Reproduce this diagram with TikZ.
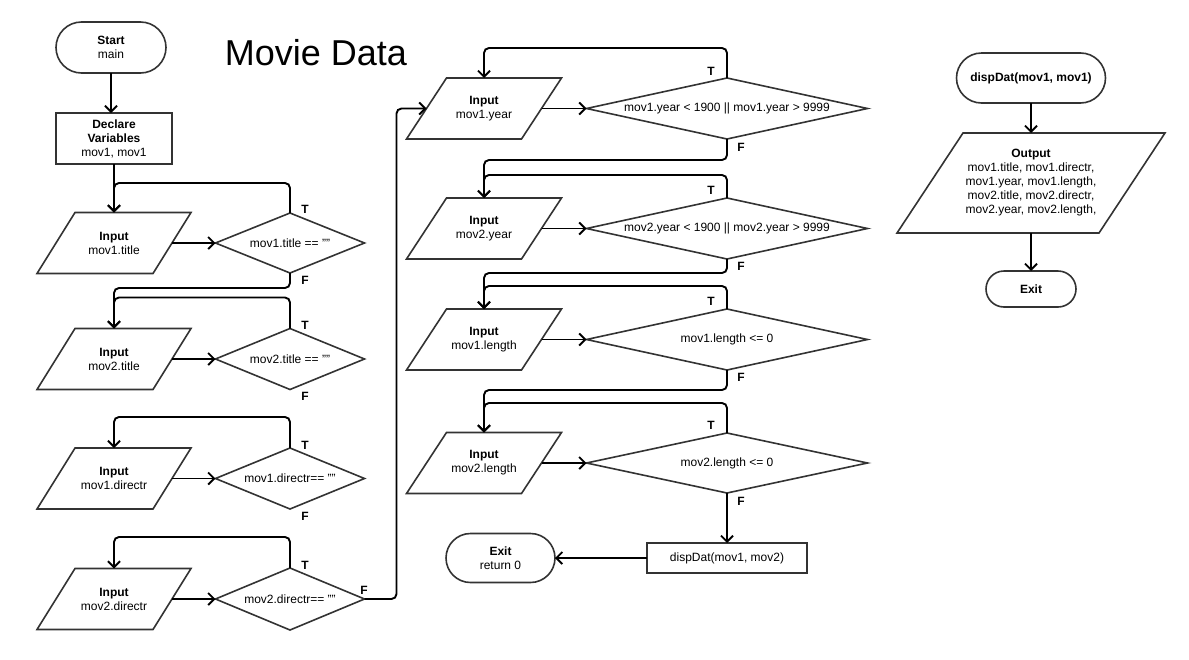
\documentclass[tikz,border=0pt]{standalone}
\usepackage{fontspec}
\setmainfont{Liberation Sans}
\usetikzlibrary{arrows.meta,shapes.geometric}
\newcommand\mkpara[2]{\draw[shp] ([xshift=#2pt]#1.north west) -- ([xshift=#2pt]#1.north east) -- ([xshift=-#2pt]#1.south east) -- ([xshift=-#2pt]#1.south west) -- cycle;}
\tikzset{
  shp/.style={draw=black!80, line width=1.6pt, line join=miter},
  base/.style={inner sep=0pt, outer sep=0pt, font=\fontsize{12pt}{14pt}\selectfont, align=center},
  term/.style={base, shp, rectangle, rounded corners=#1},
  boxn/.style={base, shp, rectangle},
  pbox/.style={base, rectangle},
  dia/.style={base, shp, diamond},
  conn/.style={draw=black, line width=1.9pt, rounded corners=5pt, -{Straight Barb[length=6pt,width=12pt]}},
  tf/.style={font=\fontsize{12pt}{14pt}\selectfont\bfseries, inner sep=0pt},
}
\begin{document}
\begin{tikzpicture}[x=1pt,y=-1pt]
\useasboundingbox (0,0) rectangle (1189,659);
% title
\node[font=\fontsize{36pt}{40pt}\selectfont, inner sep=0pt] (title) at (316,53) {Movie Data};
% column 1
\node[term=25.5pt, minimum width=110pt, minimum height=51pt] (start) at (111,47.5) {\textbf{Start}\\main};
\node[boxn, minimum width=116pt, minimum height=51pt] (decl) at (114,138.5) {\textbf{Declare}\\\textbf{Variables}\\mov1, mov1};
\node[pbox, minimum width=116pt, minimum height=61pt] (p1) at (114,243) {\textbf{Input}\\mov1.title};
\node[pbox, minimum width=116pt, minimum height=61pt] (p2) at (114,359) {\textbf{Input}\\mov2.title};
\node[pbox, minimum width=116pt, minimum height=61pt] (p3) at (114,478.5) {\textbf{Input}\\mov1.directr};
\node[pbox, minimum width=116pt, minimum height=61pt] (p4) at (114,599) {\textbf{Input}\\mov2.directr};
\foreach \p in {p1,p2,p3,p4} {\mkpara{\p}{19}}
\node[dia, minimum width=149pt, minimum height=60pt] (d1) at (290,243) {};
\node[base] at (d1) {mov1.title == ""};
\node[dia, minimum width=149pt, minimum height=61pt] (d2) at (290,359) {};
\node[base] at (d2) {mov2.title == ""};
\node[dia, minimum width=149pt, minimum height=61pt] (d3) at (290,478.5) {};
\node[base] at (d3) {mov1.directr== ""};
\node[dia, minimum width=149pt, minimum height=62pt] (d4) at (290,599) {};
\node[base] at (d4) {mov2.directr== ""};
% column 2
\node[pbox, minimum width=115pt, minimum height=61pt] (p5) at (484,108.5) {\textbf{Input}\\mov1.year};
\node[pbox, minimum width=115pt, minimum height=61pt] (p6) at (484,228.5) {\textbf{Input}\\mov2.year};
\node[pbox, minimum width=115pt, minimum height=61pt] (p7) at (484,339.5) {\textbf{Input}\\mov1.length};
\node[pbox, minimum width=115pt, minimum height=61pt] (p8) at (484,463) {\textbf{Input}\\mov2.length};
\foreach \p in {p5,p6,p7,p8} {\mkpara{\p}{20}}
\node[dia, minimum width=281pt, minimum height=61pt] (d5) at (727,108.5) {};
\node[base] at (d5) {mov1.year < 1900 || mov1.year > 9999};
\node[dia, minimum width=281pt, minimum height=61pt] (d6) at (727,228.5) {};
\node[base] at (d6) {mov2.year < 1900 || mov2.year > 9999};
\node[dia, minimum width=281pt, minimum height=61pt] (d7) at (727,339.5) {};
\node[base] at (d7) {mov1.length <= 0};
\node[dia, minimum width=281pt, minimum height=60pt] (d8) at (727,463) {};
\node[base] at (d8) {mov2.length <= 0};
\node[boxn, minimum width=160pt, minimum height=30pt] (disp) at (727,558) {dispDat(mov1, mov2)};
\node[term=24.5pt, minimum width=109pt, minimum height=49pt] (exit0) at (500.5,558) {\textbf{Exit}\\return 0};
% column 3
\node[term=25pt, minimum width=149pt, minimum height=50pt] (dd) at (1031,78) {\textbf{dispDat(mov1, mov1)}};
\node[pbox, minimum width=202pt, minimum height=100pt] (out) at (1031,183) {\textbf{Output}\\mov1.title, mov1.directr,\\mov1.year, mov1.length,\\mov2.title, mov2.directr,\\mov2.year, mov2.length,};
\mkpara{out}{33}
\node[term=18pt, minimum width=90pt, minimum height=36pt] (ex) at (1031,289) {\textbf{Exit}};
% connectors column 1
\draw[conn] (start.south) -- (start.south |- decl.north);
\draw[conn] (decl.south) -- (p1.north);
\draw[conn] (p1.east) -- (d1.west);
\draw[conn] (p2.east) -- (d2.west);
\draw[conn] (p3.east) -- (d3.west);
\draw[conn] (p4.east) -- (d4.west);
\draw[conn] (d1.north) -- ++(0,-30) -| (p1.north);
\draw[conn] (d2.north) -- ++(0,-31) -| (p2.north);
\draw[conn] (d3.north) -- ++(0,-31) -| (p3.north);
\draw[conn] (d4.north) -- ++(0,-31) -| (p4.north);
\draw[conn] (d1.south) -- ++(0,15) -| (p2.north);
\draw[conn] (d4.east) -- ++(32,0) |- (p5.west);
% connectors column 2
\draw[conn] (p5.east) -- (d5.west);
\draw[conn] (p6.east) -- (d6.west);
\draw[conn] (p7.east) -- (d7.west);
\draw[conn] (p8.east) -- (d8.west);
\draw[conn] (d5.north) -- ++(0,-30) -| (p5.north);
\draw[conn] (d6.north) -- ++(0,-23) -| (p6.north);
\draw[conn] (d7.north) -- ++(0,-23) -| (p7.north);
\draw[conn] (d8.north) -- ++(0,-30) -| (p8.north);
\draw[conn] (d5.south) -- ++(0,21) -| (p6.north);
\draw[conn] (d6.south) -- ++(0,14) -| (p7.north);
\draw[conn] (d7.south) -- ++(0,20) -| (p8.north);
\draw[conn] (d8.south) -- (disp.north);
\draw[conn] (disp.west) -- (exit0.east);
% connectors column 3
\draw[conn] (dd.south) -- (out.north);
\draw[conn] (out.south) -- (ex.north);
% T/F labels
\node[tf] (t1) at (305,209) {T};
\node[tf] (f1) at (305,280) {F};
\node[tf] (t2) at (305,325) {T};
\node[tf] (f2) at (305,396) {F};
\node[tf] (t3) at (305,445) {T};
\node[tf] (f3) at (305,516) {F};
\node[tf] (t4) at (305,565) {T};
\node[tf] (f4) at (364,590) {F};
\node[tf] (t5) at (711,71) {T};
\node[tf] (f5) at (741,147) {F};
\node[tf] (t6) at (711,190) {T};
\node[tf] (f6) at (741,266) {F};
\node[tf] (t7) at (711,301) {T};
\node[tf] (f7) at (741,377) {F};
\node[tf] (t8) at (711,425) {T};
\node[tf] (f8) at (741,501) {F};
\end{tikzpicture}
\end{document}
